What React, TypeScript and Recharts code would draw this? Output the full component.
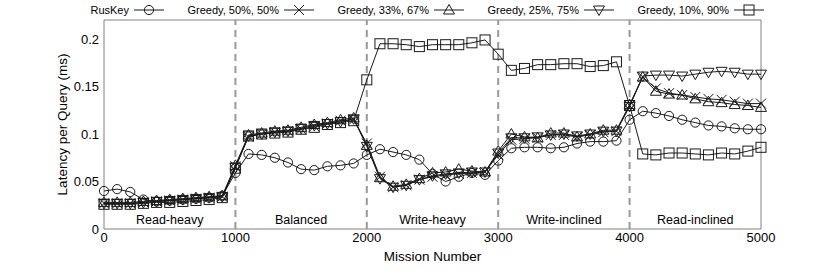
import { LineChart, Line, XAxis, YAxis, ReferenceLine, ReferenceArea, Legend } from "recharts"

const FONT = '"Liberation Sans", Arial, Helvetica, sans-serif'
const INK = "#1a1a1a"

// mission numbers (x)
const missions = [
    0, 100, 200, 300, 400, 500, 600, 700, 800, 900,
    1000, 1100, 1200, 1300, 1400, 1500, 1600, 1700, 1800, 1900,
    2000, 2100, 2200, 2300, 2400, 2500, 2600, 2700, 2800, 2900,
    3000, 3100, 3200, 3300, 3400, 3500, 3600, 3700, 3800, 3900,
    4000, 4100, 4200, 4300, 4400, 4500, 4600, 4700, 4800, 4900, 5000,
]

const rusKey = [
    0.040, 0.042, 0.039, 0.031, 0.029, 0.030, 0.031, 0.032, 0.033, 0.035,
    0.059, 0.079, 0.078, 0.075, 0.070, 0.063, 0.062, 0.066, 0.067, 0.069,
    0.078, 0.084, 0.081, 0.078, 0.073, 0.058, 0.050, 0.055, 0.059, 0.057,
    0.072, 0.085, 0.086, 0.086, 0.085, 0.086, 0.090, 0.092, 0.092, 0.093,
    0.115, 0.124, 0.122, 0.119, 0.115, 0.112, 0.109, 0.108, 0.106, 0.105, 0.105,
]

const greedy50 = [
    0.027, 0.027, 0.027, 0.028, 0.029, 0.030, 0.031, 0.032, 0.033, 0.034,
    0.066, 0.097, 0.100, 0.102, 0.103, 0.105, 0.108, 0.111, 0.114, 0.115,
    0.090, 0.055, 0.044, 0.046, 0.052, 0.055, 0.057, 0.058, 0.059, 0.060,
    0.078, 0.094, 0.095, 0.096, 0.099, 0.099, 0.097, 0.099, 0.102, 0.103,
    0.130, 0.160, 0.148, 0.143, 0.141, 0.139, 0.137, 0.136, 0.134, 0.132, 0.132,
]

const greedy33 = [
    0.028, 0.028, 0.028, 0.029, 0.030, 0.031, 0.032, 0.033, 0.034, 0.035,
    0.067, 0.099, 0.101, 0.103, 0.104, 0.107, 0.110, 0.112, 0.115, 0.117,
    0.088, 0.054, 0.045, 0.047, 0.053, 0.059, 0.060, 0.063, 0.061, 0.060,
    0.082, 0.100, 0.097, 0.096, 0.101, 0.101, 0.097, 0.100, 0.104, 0.104,
    0.131, 0.160, 0.145, 0.142, 0.141, 0.137, 0.134, 0.133, 0.131, 0.130, 0.128,
]

const greedy25 = [
    0.027, 0.027, 0.027, 0.028, 0.029, 0.030, 0.031, 0.032, 0.033, 0.034,
    0.065, 0.098, 0.100, 0.102, 0.103, 0.106, 0.109, 0.111, 0.113, 0.116,
    0.087, 0.053, 0.044, 0.046, 0.052, 0.056, 0.058, 0.059, 0.060, 0.060,
    0.080, 0.096, 0.096, 0.097, 0.099, 0.100, 0.098, 0.100, 0.103, 0.103,
    0.129, 0.161, 0.162, 0.162, 0.161, 0.163, 0.165, 0.166, 0.165, 0.163, 0.163,
]

const greedy10 = [
    0.026, 0.026, 0.026, 0.027, 0.028, 0.028, 0.029, 0.030, 0.031, 0.033,
    0.064, 0.098, 0.100, 0.101, 0.102, 0.105, 0.107, 0.110, 0.112, 0.114,
    0.157, 0.195, 0.195, 0.194, 0.192, 0.194, 0.194, 0.194, 0.196, 0.199,
    0.184, 0.167, 0.169, 0.173, 0.173, 0.174, 0.174, 0.171, 0.172, 0.176,
    0.130, 0.079, 0.078, 0.080, 0.080, 0.079, 0.078, 0.080, 0.079, 0.082, 0.086,
]

const xTicks = [0, 1000, 2000, 3000, 4000, 5000]
const yTicks = [0, 0.05, 0.1, 0.15, 0.2]
const phaseBounds = [1000, 2000, 3000, 4000]
const phases = [
    { from: 0, to: 1000, label: "Read-heavy" },
    { from: 1000, to: 2000, label: "Balanced" },
    { from: 2000, to: 3000, label: "Write-heavy" },
    { from: 3000, to: 4000, label: "Write-inclined" },
    { from: 4000, to: 5000, label: "Read-inclined" },
]

const data = missions.map((m, i) => ({
    m,
    rusKey: rusKey[i],
    g50: greedy50[i],
    g33: greedy33[i],
    g25: greedy25[i],
    g10: greedy10[i],
}))

type Shape = "circle" | "cross" | "up" | "down" | "square"

function marker(shape: Shape, cx: number, cy: number, key?: string | number) {
    const s = { fill: "none", stroke: INK, strokeWidth: 1 }
    if (shape === "circle") return <circle key={key} cx={cx} cy={cy} r={4.6} {...s} />
    if (shape === "square") return <rect key={key} x={cx - 5} y={cy - 5} width={10} height={10} {...s} />
    if (shape === "cross")
        return <path key={key} d={`M${cx - 5},${cy - 5}L${cx + 5},${cy + 5}M${cx - 5},${cy + 5}L${cx + 5},${cy - 5}`} {...s} />
    if (shape === "up")
        return <path key={key} d={`M${cx},${cy - 5.5}L${cx + 5.5},${cy + 4}L${cx - 5.5},${cy + 4}Z`} {...s} />
    return <path key={key} d={`M${cx},${cy + 5.5}L${cx + 5.5},${cy - 4}L${cx - 5.5},${cy - 4}Z`} {...s} />
}

const dotFor = (shape: Shape) => (p: any) => {
    if (p.cx == null || p.cy == null) return <g key={p.index} />
    return marker(shape, p.cx, p.cy, p.index)
}

const series: { key: string; name: string; shape: Shape }[] = [
    { key: "rusKey", name: "RusKey", shape: "circle" },
    { key: "g50", name: "Greedy, 50%, 50%", shape: "cross" },
    { key: "g33", name: "Greedy, 33%, 67%", shape: "up" },
    { key: "g25", name: "Greedy, 25%, 75%", shape: "down" },
    { key: "g10", name: "Greedy, 10%, 90%", shape: "square" },
]

function TopLegend() {
    return (
        <svg width={822} height={20} style={{ display: "block" }}>
            {series.map((s, i) => {
                const c = 149 + i * 150
                return (
                    <g key={s.key}>
                        <text x={c - 20} y={14} textAnchor="end" fontSize={11} fontFamily={FONT} fill="#000">
                            {s.name}
                        </text>
                        <line x1={c - 15} x2={c + 15} y1={10} y2={10} stroke={INK} strokeWidth={1} />
                        {marker(s.shape, c, 10)}
                    </g>
                )
            })}
        </svg>
    )
}

export default function App() {
    return (
        <div style={{ position: "absolute", left: 0, top: 0, fontFamily: FONT, background: "#fff" }}>
            <LineChart width={822} height={271} data={data} margin={{ top: 0, right: 61, bottom: 2, left: 44 }}>
                <Legend verticalAlign="top" wrapperStyle={{ top: 0, left: 0, width: 822 }} content={() => <TopLegend />} />
                <XAxis
                    dataKey="m"
                    type="number"
                    domain={[0, 5000]}
                    ticks={xTicks}
                    axisLine={false}
                    tickLine={false}
                    tickSize={2}
                    tickMargin={2}
                    height={40}
                    tick={{ fontSize: 13, fill: "#000", fontFamily: FONT }}
                    label={{ value: "Mission Number", position: "insideBottom", offset: 8, fontSize: 13.5, fill: "#000", fontFamily: FONT }}
                />
                <YAxis
                    type="number"
                    domain={[0, 0.22]}
                    ticks={yTicks}
                    allowDataOverflow
                    axisLine={false}
                    tickLine={false}
                    tickSize={3}
                    tickMargin={2}
                    width={60}
                    tick={{ fontSize: 13, fill: "#000", fontFamily: FONT }}
                    label={{
                        value: "Latency per Query (ms)",
                        angle: -90,
                        position: "insideLeft",
                        offset: 18,
                        fontSize: 13.5,
                        fill: "#000",
                        fontFamily: FONT,
                        style: { textAnchor: "middle" },
                    }}
                />
                <ReferenceArea x1={0} x2={5000} y1={0} y2={0.22} fill="none" stroke="#808080" strokeWidth={1} />
                {phases.map((p) => (
                    <ReferenceArea
                        key={p.label}
                        x1={p.from}
                        x2={p.to}
                        y1={0}
                        y2={0.22}
                        fill="none"
                        stroke="none"
                        label={{ value: p.label, position: "insideBottom", offset: 5, fontSize: 12.5, fill: "#000", fontFamily: FONT }}
                    />
                ))}
                {phaseBounds.map((x) => (
                    <ReferenceLine key={x} x={x} stroke="#999" strokeWidth={2} strokeDasharray="7 5" />
                ))}
                {series.map((s) => (
                    <Line
                        key={s.key}
                        dataKey={s.key}
                        name={s.name}
                        type="linear"
                        stroke={INK}
                        strokeWidth={1}
                        dot={dotFor(s.shape)}
                        activeDot={false}
                        isAnimationActive={false}
                    />
                ))}
            </LineChart>
        </div>
    )
}
